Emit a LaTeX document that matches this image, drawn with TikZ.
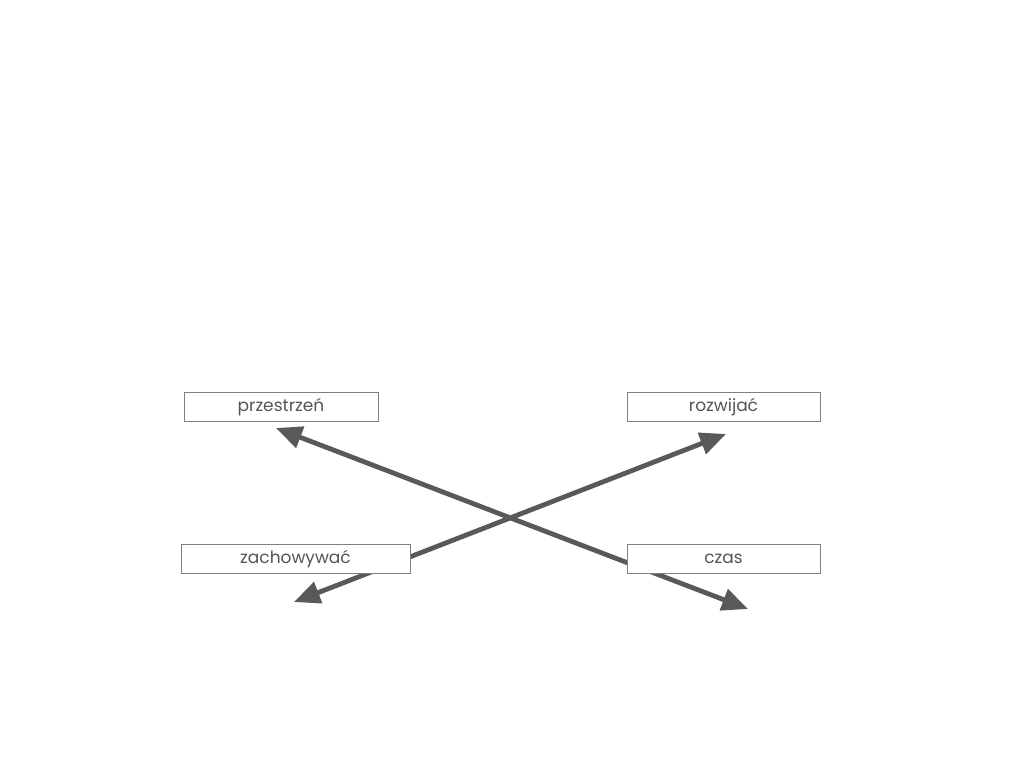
\documentclass[tikz,border=0pt]{standalone}
\usepackage{fontspec}
\setmainfont{Poppins}
\usetikzlibrary{arrows.meta}
\definecolor{linegray}{HTML}{595959}
\definecolor{boxgray}{HTML}{808080}
\definecolor{textgray}{HTML}{555555}
\begin{document}
\begin{tikzpicture}[x=1pt,y=-1pt,
        word/.style={draw=boxgray,line width=1pt,fill=white,text=textgray,minimum height=29pt,inner sep=0pt,text height=1.05em,text depth=0pt,font=\fontsize{17}{20}\selectfont},
        link/.style={draw=linegray,line width=4.8pt,{Triangle[length=26pt,width=22pt]}-{Triangle[length=26pt,width=22pt]}}]
    \useasboundingbox (0,0) rectangle (1024,763);
        \coordinate (a1) at (276,428);
        \coordinate (a2) at (748,609);
        \coordinate (b1) at (294,602);
        \coordinate (b2) at (726,434);
        \draw [link] (a1) -- (a2);
        \draw [link] (b1) -- (b2);
        \node [word,minimum width=194pt] (przestrzen) at (281,406.5) {przestrzeń};
        \node [word,minimum width=193pt] (rozwijac) at (723.5,406.5) {rozwijać};
        \node [word,minimum width=229pt] (zachowywac) at (295.5,558.5) {zachowywać};
        \node [word,minimum width=193pt] (czas) at (723.5,558.5) {czas};
    \end{tikzpicture}
\end{document}
